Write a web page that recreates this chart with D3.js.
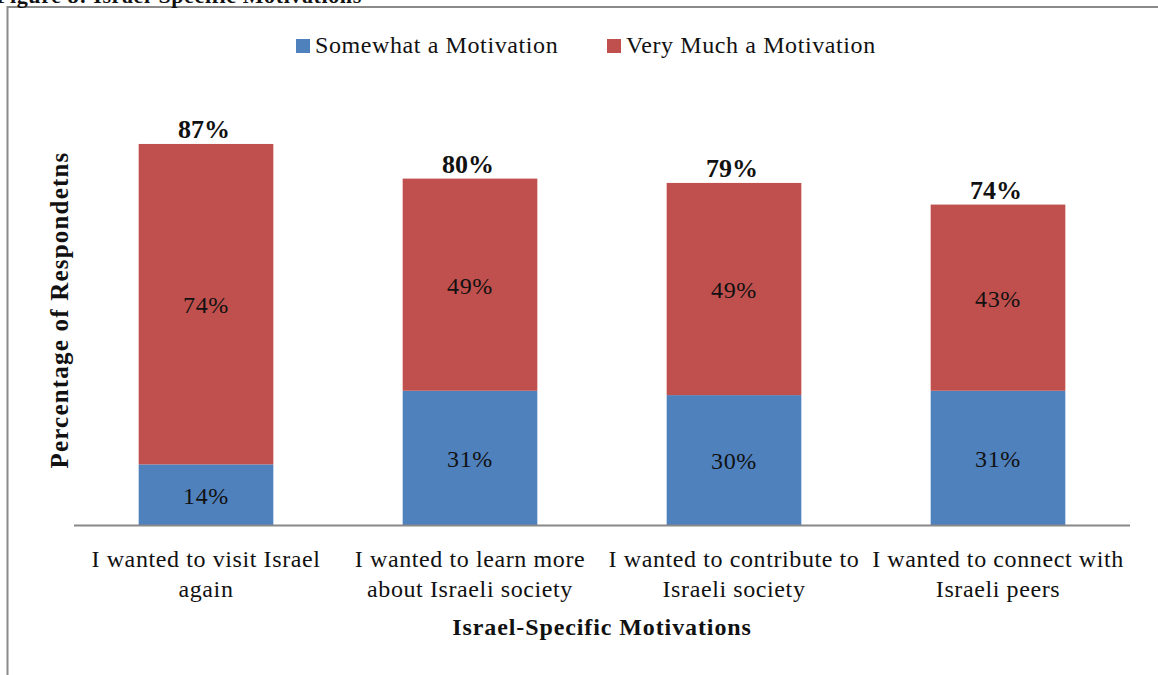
<!doctype html>
<html lang="en">
<head>
<meta charset="utf-8">
<style type="text/css">
body { margin: 0; background: #ffffff; }
svg text { font-family: "Liberation Serif", "DejaVu Serif", serif; fill: #111; }
</style>
</head>
<body>
<svg width="1158" height="675"></svg>
<script src="https://cdn.jsdelivr.net/npm/d3@7"></script>
<script>
// chart data
var categories = [
    ["I wanted to visit Israel", "again"],
    ["I wanted to learn more", "about Israeli society"],
    ["I wanted to contribute to", "Israeli society"],
    ["I wanted to connect with", "Israeli peers"]
];
var somewhat = [14, 31, 30, 31];
var veryMuch = [74, 49, 49, 43];
var totals = [87, 80, 79, 74];
var seriesNames = ["Somewhat a Motivation", "Very Much a Motivation"];
var colors = ["#4F81BD", "#C0504D"];

var svg = d3.select("svg");

// frame around the figure (right and bottom fall off the page)
svg.append("path")
    .attr("d", "M7.5,700 L7.5,7 L1170,7")
    .attr("fill", "none")
    .attr("stroke", "#8a8a8a")
    .attr("stroke-width", 2);

// figure caption, mostly cut off at the top
svg.append("text")
    .attr("x", -4).attr("y", 3)
    .style("font-weight", "bold").style("font-size", "22px")
    .style("letter-spacing", "0.6px")
    .text("Figure 8: Israel-Specific Motivations");

var x = d3.scaleBand()
    .domain(d3.range(categories.length))
    .range([74, 1130])
    .paddingInner(0.49)
    .paddingOuter(0.245);

var y = d3.scaleLinear().domain([0, 100]).range([525, 92]);

var rows = categories.map(function(c, i) {
    return {i: i, somewhat: somewhat[i], very: veryMuch[i]};
});
var stack = d3.stack().keys(["somewhat", "very"])(rows);

var layers = svg.selectAll("g.layer")
    .data(stack)
    .enter().append("g")
    .attr("class", "layer")
    .attr("fill", function(d, k) { return colors[k]; });

layers.selectAll("rect")
    .data(function(d) { return d; })
    .enter().append("rect")
    .attr("x", function(d) { return x(d.data.i); })
    .attr("width", x.bandwidth())
    .attr("y", function(d) { return y(d[1]); })
    .attr("height", function(d) { return y(d[0]) - y(d[1]); });

// segment labels
layers.selectAll("text")
    .data(function(d) { return d; })
    .enter().append("text")
    .attr("x", function(d) { return x(d.data.i) + x.bandwidth() / 2; })
    .attr("y", function(d) { return (y(d[0]) + y(d[1])) / 2 + 9; })
    .attr("text-anchor", "middle")
    .style("font-size", "24px")
    .style("letter-spacing", "0.6px")
    .text(function(d) { return (d[1] - d[0]) + "%"; });

// totals above the bars
svg.selectAll("text.total")
    .data(totals)
    .enter().append("text")
    .attr("class", "total")
    .attr("x", function(d, i) { return x(i) + x.bandwidth() / 2 - 2; })
    .attr("y", function(d, i) { return y(somewhat[i] + veryMuch[i]) - 6; })
    .attr("text-anchor", "middle")
    .style("font-weight", "bold").style("font-size", "26px")
    .text(function(d) { return d + "%"; });

// x axis line
svg.append("line")
    .attr("x1", 74).attr("x2", 1130)
    .attr("y1", 525.5).attr("y2", 525.5)
    .attr("stroke", "#888888").attr("stroke-width", 2);

// category labels
var cat = svg.selectAll("text.cat")
    .data(categories)
    .enter().append("text")
    .attr("class", "cat")
    .attr("text-anchor", "middle")
    .style("font-size", "24px")
    .style("letter-spacing", "0.6px")
    .attr("transform", function(d, i) {
        return "translate(" + (x(i) + x.bandwidth() / 2) + ",567)";
    });
cat.selectAll("tspan")
    .data(function(d) { return d; })
    .enter().append("tspan")
    .attr("x", 0)
    .attr("y", function(d, j) { return j * 30; })
    .text(function(d) { return d; });

// axis titles
svg.append("text")
    .attr("x", 602).attr("y", 635)
    .attr("text-anchor", "middle")
    .style("font-weight", "bold").style("font-size", "24px")
    .style("letter-spacing", "0.9px")
    .text("Israel-Specific Motivations");

svg.append("text")
    .attr("transform", "translate(68,310) rotate(-90)")
    .attr("text-anchor", "middle")
    .style("font-weight", "bold").style("font-size", "25px")
    .style("letter-spacing", "1.2px")
    .text("Percentage of Respondetns");

// legend
var legendX = [296, 607];
var leg = svg.selectAll("g.legend")
    .data(seriesNames)
    .enter().append("g")
    .attr("class", "legend")
    .attr("transform", function(d, i) { return "translate(" + legendX[i] + ",39)"; });
leg.append("rect")
    .attr("width", 14).attr("height", 14)
    .attr("fill", function(d, i) { return colors[i]; });
leg.append("text")
    .attr("x", 19).attr("y", 14)
    .style("font-size", "24px")
    .style("letter-spacing", "0.6px")
    .text(function(d) { return d; });
</script>
</body>
</html>
